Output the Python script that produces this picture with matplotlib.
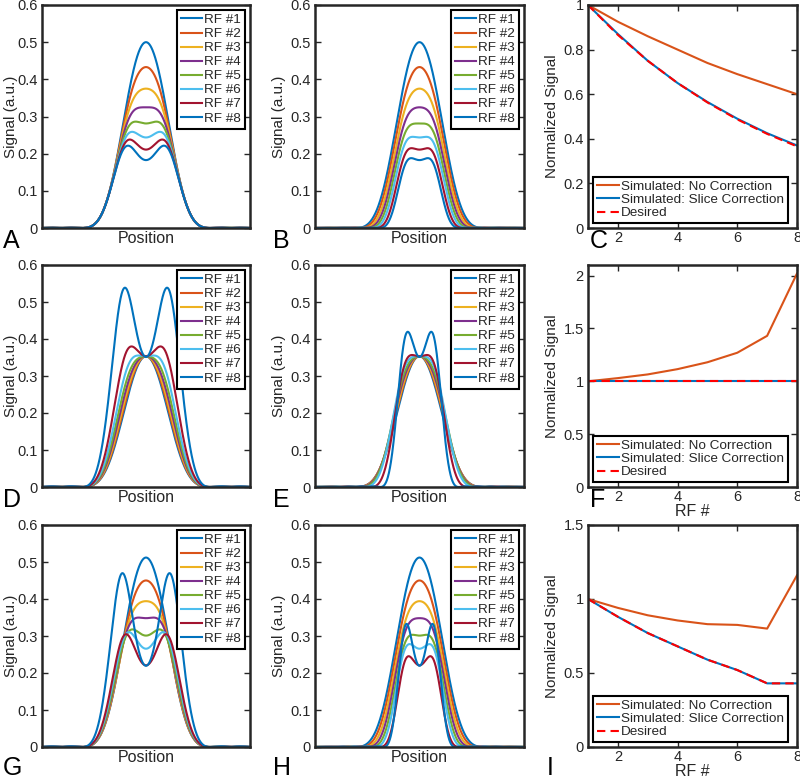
import numpy as np
import matplotlib
matplotlib.use("Agg")
import matplotlib.pyplot as plt
from matplotlib.ticker import FuncFormatter

plt.rcParams['font.family'] = ['Liberation Sans', 'DejaVu Sans']

# ---------------- data ----------------
rf_labels = ["RF #1", "RF #2", "RF #3", "RF #4", "RF #5", "RF #6", "RF #7", "RF #8"]
rf_number = [1, 2, 3, 4, 5, 6, 7, 8]

# flip angles (deg) of each RF, inferred from the peak / centre heights of the profiles
flip_const = [30.0, 30.0, 30.0, 30.0, 30.0, 30.0, 30.0, 30.0]      # panels A, B
flip_vfa = [20.7, 22.2, 24.1, 26.6, 30.0, 35.3, 45.0, 84.0]        # panels D, E
flip_decay = [30.8, 31.6, 32.6, 34.4, 36.3, 40.4, 45.0, 84.0]      # panels G, H

# relative slice width of each RF
width_none = [1.0, 1.0, 1.0, 1.0, 1.0, 1.0, 1.0, 1.0]
width_B = [1.0, 0.95, 0.90, 0.85, 0.80, 0.75, 0.69, 0.63]
width_E = [1.0, 0.99, 0.97, 0.95, 0.92, 0.87, 0.76, 0.61]
width_H = [1.0, 0.94, 0.88, 0.82, 0.76, 0.70, 0.62, 0.56]

# normalized signal vs RF #
C_no_corr = [1.0, 0.925, 0.86, 0.80, 0.74, 0.69, 0.645, 0.60]
C_slice_corr = [1.0, 0.87, 0.75, 0.65, 0.565, 0.49, 0.425, 0.37]
C_desired = [1.0, 0.866, 0.75, 0.65, 0.563, 0.487, 0.422, 0.366]
F_no_corr = [1.0, 1.03, 1.065, 1.115, 1.18, 1.27, 1.43, 2.02]
F_slice_corr = [1.0, 1.0, 1.0, 1.0, 1.0, 1.0, 1.0, 1.0]
F_desired = [1.0, 1.0, 1.0, 1.0, 1.0, 1.0, 1.0, 1.0]
I_no_corr = [1.0, 0.94, 0.89, 0.855, 0.83, 0.825, 0.80, 1.16]
I_slice_corr = [1.0, 0.88, 0.77, 0.68, 0.59, 0.52, 0.43, 0.43]
I_desired = [1.0, 0.88, 0.77, 0.68, 0.59, 0.52, 0.43, 0.43]

# ---------------- slice-profile model ----------------
_t = np.linspace(-1, 1, 1201)
_pulse = 0.42 + 0.5 * np.cos(np.pi * _t) + 0.08 * np.cos(2 * np.pi * _t)  # Blackman RF pulse
_fgrid = np.linspace(0, 6, 3001)
_prof = (_pulse[None, :] * np.cos(2 * np.pi * _fgrid[:, None] * _t[None, :])).sum(1)
_prof /= _prof[0]
_zero = _fgrid[np.argmax(_prof < 0)]
EDGE = 0.61          # position where the flip-angle profile first reaches zero

position = np.linspace(-1, 1, 1201)


def profile(w):
    u = np.abs(position) / (w * EDGE) * _zero
    return np.interp(u, _fgrid, _prof)


def slice_signals(flips, widths):
    mz = np.ones_like(position)
    out = []
    for a, w in zip(flips, widths):
        th = np.deg2rad(a) * profile(w)
        out.append(mz * np.abs(np.sin(th)))
        mz = mz * np.cos(th)
    return out


# ---------------- styling ----------------
W, H = 800, 781
colors = ['#0072BD', '#D95319', '#EDB120', '#7E2F8E', '#77AC30', '#4DBEEE', '#A2142F', '#0072BD']
dark = '#262626'

fig = plt.figure(figsize=(W / 100, H / 100), dpi=100)


def make_ax(l, t, r, b):
    ax = fig.add_axes([l / W, 1 - b / H, (r - l) / W, (b - t) / H])
    for s in ax.spines.values():
        s.set_color(dark)
        s.set_linewidth(1.8)
    ax.tick_params(direction='in', length=4, width=1, colors=dark, labelsize=10.5,
                   left=True, right=True, top=True, bottom=True, pad=3)
    ax.yaxis.set_major_formatter(FuncFormatter(lambda v, p: f"{v:g}"))
    return ax


def style_legend(leg):
    leg.get_frame().set_edgecolor('black')
    leg.get_frame().set_linewidth(1.5)
    for txt in leg.get_texts():
        txt.set_color(dark)


cols = [(42, 250), (315, 524), (588, 797)]
rows = [(5, 228), (265, 487), (525, 747)]
ylabel_right = [18, 286, 559]   # pixel x of the right side of the y labels

profile_sets = [
    (flip_const, width_none), (flip_const, width_B),
    (flip_vfa, width_none), (flip_vfa, width_E),
    (flip_decay, width_none), (flip_decay, width_H),
]

k = 0
for ri, (t, b) in enumerate(rows):
    for ci in range(2):
        l, r = cols[ci]
        ax = make_ax(l, t, r, b)
        flips, widths = profile_sets[k]
        k += 1
        sigs = slice_signals(flips, widths)
        for sig, c, lab in zip(sigs, colors, rf_labels):
            ax.plot(position, sig, color=c, lw=1.5, label=lab)
        ax.set_xlim(-1, 1)
        ax.set_ylim(0, 0.6)
        ax.set_xticks([])
        ax.set_yticks([0, 0.1, 0.2, 0.3, 0.4, 0.5, 0.6])
        ax.set_xlabel("Position", fontsize=11.5, color=dark, labelpad=2)
        ax.set_ylabel("Signal (a.u.)", fontsize=11, color=dark)
        ax.yaxis.set_label_coords((ylabel_right[ci] - l) / (r - l), 0.5)
        leg = ax.legend(loc='upper right', fontsize=9.7, handlelength=1.6, handletextpad=0.15,
                        labelspacing=0.12, borderpad=0.3, borderaxespad=0.35,
                        fancybox=False, framealpha=1)
        style_legend(leg)

right_sets = [
    (C_no_corr, C_slice_corr, C_desired, (0, 1), [0, 0.2, 0.4, 0.6, 0.8, 1], False),
    (F_no_corr, F_slice_corr, F_desired, (0, 2.1), [0, 0.5, 1, 1.5, 2], True),
    (I_no_corr, I_slice_corr, I_desired, (0, 1.5), [0, 0.5, 1, 1.5], True),
]
for ri, (t, b) in enumerate(rows):
    l, r = cols[2]
    ax = make_ax(l, t, r, b)
    nc, sc, de, yl, yt, xlab = right_sets[ri]
    ax.plot(rf_number, nc, color='#D95319', lw=1.5, label="Simulated: No Correction")
    ax.plot(rf_number, sc, color='#0072BD', lw=1.5, label="Simulated: Slice Correction")
    ax.plot(rf_number, de, color='#FF0000', lw=1.5, linestyle=(0, (4, 2.5)), label="Desired")
    ax.set_xlim(1, 8)
    ax.set_ylim(*yl)
    ax.set_xticks([2, 4, 6, 8])
    ax.set_yticks(yt)
    ax.tick_params(axis='x', pad=2)
    ax.set_ylabel("Normalized Signal", fontsize=11, color=dark)
    ax.yaxis.set_label_coords((ylabel_right[2] - l) / (r - l), 0.5)
    if xlab:
        ax.set_xlabel("RF #", fontsize=11.5, color=dark, labelpad=0)
    leg = ax.legend(loc='lower left', fontsize=9.7, handlelength=1.65, handletextpad=0.15,
                    labelspacing=0.05, borderpad=0.3, borderaxespad=0.35,
                    fancybox=False, framealpha=1)
    style_legend(leg)

panel_labels = [("A", 3, 248), ("B", 273, 248), ("C", 590, 248),
                ("D", 3, 507), ("E", 273, 507), ("F", 590, 507),
                ("G", 3, 775), ("H", 273, 775), ("I", 547, 775)]
for s, x, y in panel_labels:
    fig.text(x / W, 1 - y / H, s, fontsize=18, color='black', ha='left', va='baseline')

fig.savefig("out.png", dpi=100)
